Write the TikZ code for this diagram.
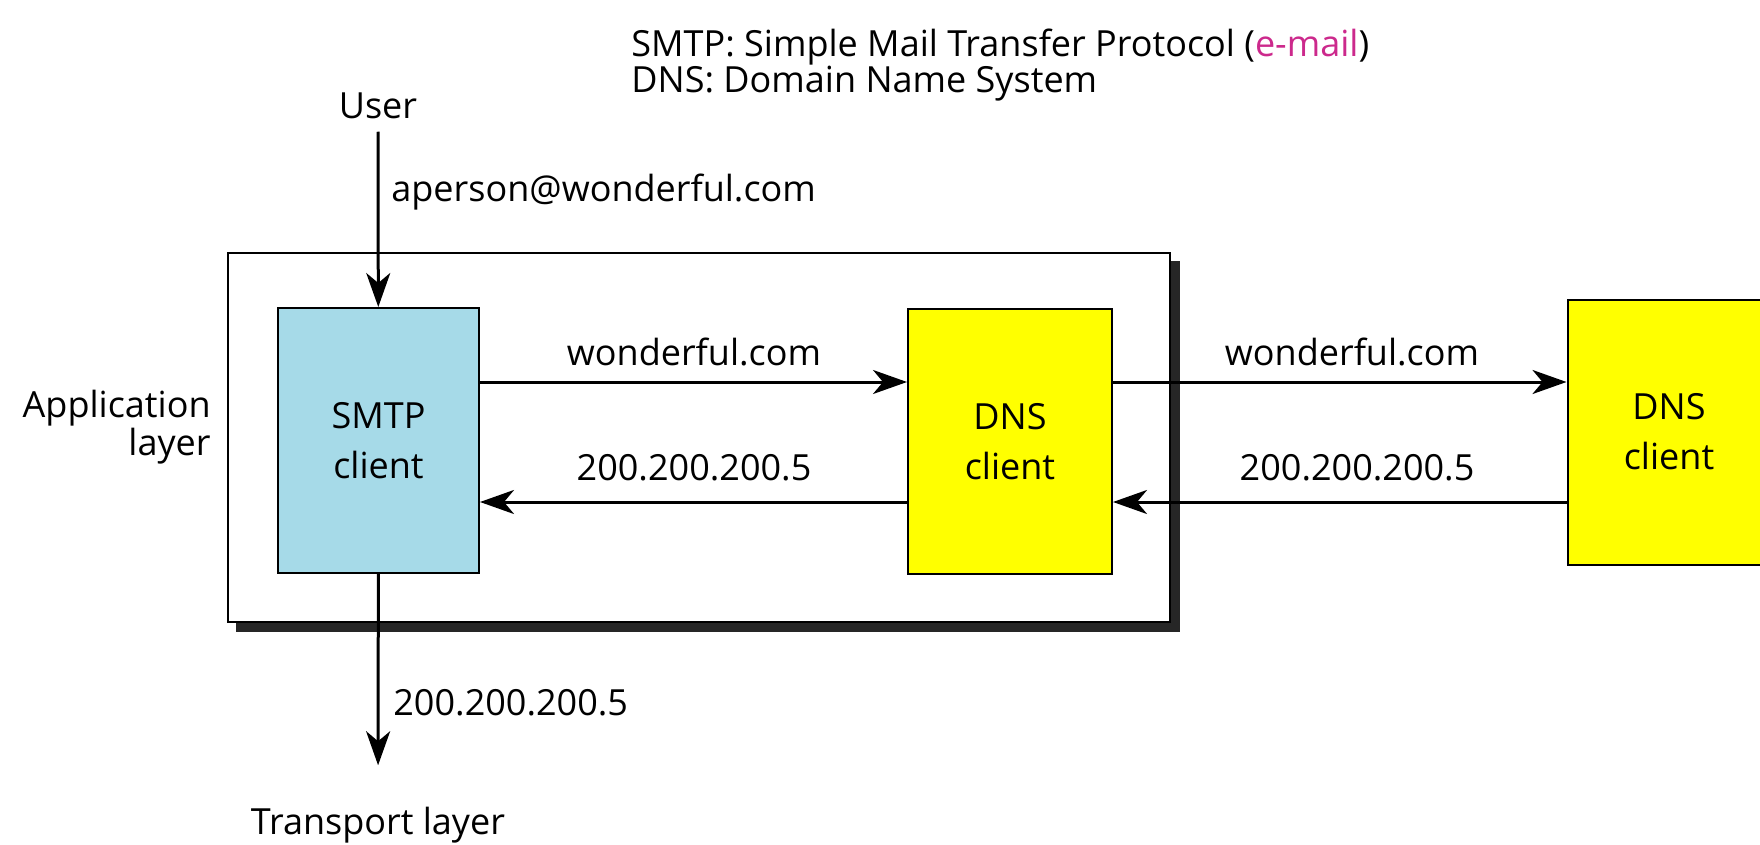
\documentclass[tikz,border=0pt]{standalone}
\usepackage{fontspec}
\setmainfont{Open Sans}
\usetikzlibrary{arrows.meta,positioning}
\pgfdeclarelayer{background layer}
\pgfsetlayers{background layer,main}
\definecolor{smtpblue}{RGB}{166,218,232}
\definecolor{dnsyellow}{RGB}{255,255,0}
\definecolor{mailpink}{RGB}{204,41,140}

\begin{document}
\begin{tikzpicture}[x=0.5pt,y=-0.5pt]
\tikzstyle{client}=[draw=black,line width=1pt,minimum height=132.5pt,align=center,inner sep=0pt,font=\fontsize{18}{25}\selectfont]
\tikzstyle{arrow}=[line width=1.5pt,-{Stealth[length=17pt,width=12pt,inset=5pt]}]
\tikzstyle{lbl}=[inner sep=0pt,font=\fontsize{18}{19}\selectfont]
\useasboundingbox (0,0) rectangle (1760,845);

% application layer frame
\node [draw=black,line width=1.2pt,fill=white,minimum width=471pt,minimum height=184.5pt] at (699,437.5) (app) {};
\begin{pgfonlayer}{background layer}
\fill [black!85] ([shift={(4.5pt,-4.5pt)}]app.south west) rectangle ([shift={(4.5pt,-4.5pt)}]app.north east);
\end{pgfonlayer}

\node [client,fill=smtpblue,minimum width=100.5pt] at (378.5,440.5) (smtp) {SMTP\\client};
\node [client,fill=dnsyellow,minimum width=102pt] at (1010,441.5) (dnsa) {DNS\\client};
\node [client,fill=dnsyellow,minimum width=101.5pt] at (1669,432) (dnsb) {DNS\\client};

\coordinate (qy) at (0,382);
\coordinate (ry) at (0,502);

\node [lbl,anchor=base] at (378,119) (user) {User};
\node [lbl,anchor=base] at (378,834) (transport) {Transport layer};
\node [lbl,anchor=east,align=right] at (211,427) (applbl) {Application\\layer};
\node [lbl,anchor=west,align=left,font=\fontsize{18}{18}\selectfont] at (631,65) (legend)
  {SMTP: Simple Mail Transfer Protocol ({\color{mailpink}e-mail})\\DNS: Domain Name System};

\node [lbl,anchor=base west] at (391,202) (mail) {aperson@wonderful.com};
\node [lbl,anchor=base west] at (393,715) (ipdown) {200.200.200.5};
\node [lbl,anchor=base] at (694,365) (namea) {wonderful.com};
\node [lbl,anchor=base] at (694,480) (ipa) {200.200.200.5};
\node [lbl,anchor=base] at (1352,365) (nameb) {wonderful.com};
\node [lbl,anchor=base] at (1357,480) (ipb) {200.200.200.5};

\draw [arrow,shorten <=6pt] (user) -- (smtp);
\draw [arrow,shorten >=20.5pt] (smtp) -- (transport);

\draw [arrow] (smtp.east |- qy) -- (dnsa.west |- qy);
\draw [arrow] (dnsa.west |- ry) -- (smtp.east |- ry);
\draw [arrow] (dnsa.east |- qy) -- (dnsb.west |- qy);
\draw [arrow] (dnsb.west |- ry) -- (dnsa.east |- ry);
\end{tikzpicture}
\end{document}
